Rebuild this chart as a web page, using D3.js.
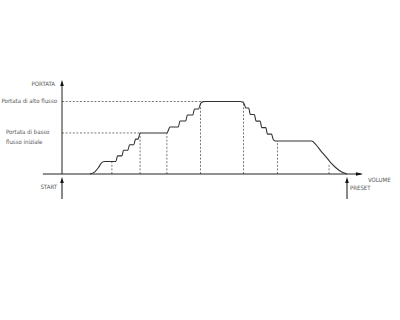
<!DOCTYPE html>
<html>
<head>
<meta charset="utf-8">
<script src="https://cdn.jsdelivr.net/npm/d3@7"></script>
<style>
  body { margin: 0; background: #fff; }
  svg text { font-family: "Liberation Sans Narrow", "DejaVu Sans Condensed", "Liberation Sans", sans-serif; fill: #555; }
</style>
</head>
<body>
<svg id="chart"></svg>
<script>
const width = 400, height = 320;

// volume: 0 = START, 100 = PRESET ; flow: 100 = high flow
const profileVolume = [9.8, 11.5, 12.8, 13.8, 14.8, 18.9,
  19.5, 21.0, 21.6, 23.1, 23.7, 25.2, 25.8, 26.7, 27.4,
  36.8, 37.9, 40.8, 41.4, 43.4, 44.0, 45.9, 46.5, 47.9, 48.6, 49.3, 50.0,
  62.5, 63.3, 63.9, 64.5, 65.5, 66.1, 67.5, 68.1, 69.5, 70.1, 71.5, 72.1, 73.5, 74.2, 75.0,
  87.6, 89.0, 91.0, 93.0, 94.2, 96.0, 98.0, 100];
const profileFlow = [0, 3, 9, 15, 17.2, 17.2,
  25, 25, 32.7, 32.7, 40.4, 40.4, 48.1, 48.1, 56.6,
  56.6, 64.8, 64.8, 73.1, 73.1, 81.4, 81.4, 89.7, 89.7, 97, 99.5, 100,
  100, 99.3, 97, 91, 91, 82, 82, 73, 73, 64, 64, 55, 55, 47, 45.5,
  45.5, 41, 31, 22, 16, 9, 3, 0];

// dashed guide lines
const guideVolume = [17.5, 27.4, 36.8, 48.6, 63.7, 75.6, 93.7];
const guideFlow = [17.2, 56.6, 56.6, 100, 100, 45.5, 14];
const levelFlow = [100, 56.6];
const levelEnd = [48.6, 27.4];

const svg = d3.select("#chart").attr("width", width).attr("height", height);
svg.append("rect").attr("width", width).attr("height", height).attr("fill", "#fff");

const x = d3.scaleLinear().domain([0, 100]).range([62, 347]);
const y = d3.scaleLinear().domain([0, 100]).range([174, 101.5]);

const dash = "2,1.6";

// horizontal level lines
levelFlow.forEach((f, i) => {
  svg.append("line")
    .attr("x1", x(0)).attr("x2", x(levelEnd[i]))
    .attr("y1", y(f)).attr("y2", y(f))
    .attr("stroke", "#555").attr("stroke-width", 0.8).attr("stroke-dasharray", dash);
});

// vertical guides
guideVolume.forEach((v, i) => {
  svg.append("line")
    .attr("x1", x(v)).attr("x2", x(v))
    .attr("y1", y(0)).attr("y2", y(guideFlow[i]))
    .attr("stroke", "#555").attr("stroke-width", 0.8).attr("stroke-dasharray", dash);
});

// axes
svg.append("line").attr("x1", x(-6.7)).attr("x2", x(105)).attr("y1", y(0)).attr("y2", y(0))
  .attr("stroke", "#222").attr("stroke-width", 1);
svg.append("line").attr("x1", x(0)).attr("x2", x(0)).attr("y1", y(0)).attr("y2", y(126))
  .attr("stroke", "#222").attr("stroke-width", 1);

function arrowUp(cx, tipY) {
  svg.append("path")
    .attr("d", `M${cx},${tipY} L${cx - 1.8},${tipY + 6} L${cx + 1.8},${tipY + 6} Z`)
    .attr("fill", "#111");
}
arrowUp(x(0), y(129.7));
svg.append("path")
  .attr("d", `M${x(105.6)},${y(0)} L${x(105.6) - 7},${y(0) - 1.8} L${x(105.6) - 7},${y(0) + 1.8} Z`)
  .attr("fill", "#111");

// START / PRESET markers
[0, 100].forEach(v => {
  svg.append("line").attr("x1", x(v)).attr("x2", x(v)).attr("y1", 181).attr("y2", 199)
    .attr("stroke", "#111").attr("stroke-width", 1);
  arrowUp(x(v), 177);
});

// profile line
const line = d3.line()
  .x((d, i) => x(profileVolume[i]))
  .y(d => y(d))
  .curve(d3.curveMonotoneX);
svg.append("path")
  .attr("d", line(profileFlow))
  .attr("fill", "none").attr("stroke", "#333").attr("stroke-width", 1.1)
  .attr("stroke-linejoin", "round");

// labels
const fs = 6;
svg.append("text").attr("x", 55).attr("y", 86).attr("text-anchor", "end")
  .attr("font-size", fs).text("PORTATA");
svg.append("text").attr("x", 57).attr("y", 103).attr("text-anchor", "end")
  .attr("font-size", fs).text("Portata di alto flusso");
svg.append("text").attr("x", 6).attr("y", 134).attr("font-size", fs).text("Portata di basso");
svg.append("text").attr("x", 6).attr("y", 143.5).attr("font-size", fs).text("flusso iniziale");
svg.append("text").attr("x", 57).attr("y", 189).attr("text-anchor", "end")
  .attr("font-size", fs).text("START");
svg.append("text").attr("x", 350).attr("y", 190).attr("font-size", fs).text("PRESET");
svg.append("text").attr("x", 368).attr("y", 182).attr("font-size", fs).text("VOLUME");
</script>
</body>
</html>
